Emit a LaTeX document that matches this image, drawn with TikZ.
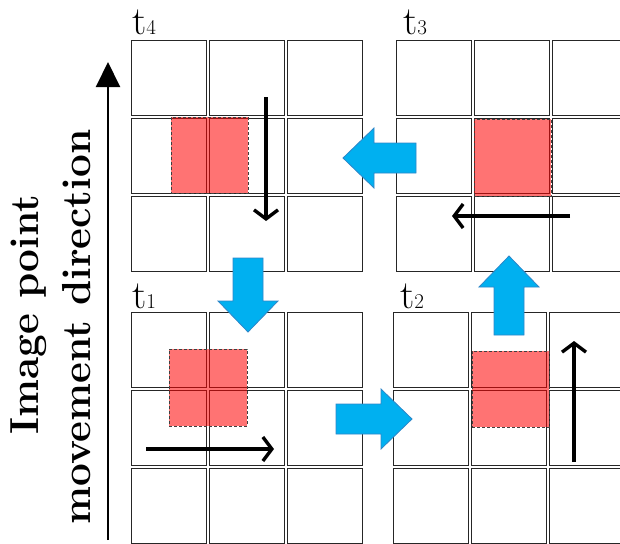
\documentclass[tikz,border=0pt]{standalone}
\usepackage{fontspec}
\usetikzlibrary{arrows.meta}
\definecolor{arrowblue}{HTML}{00B0F0}
\definecolor{edgeblue}{HTML}{2E86C8}
\begin{document}
\begin{tikzpicture}[x=1pt,y=-1pt,
  cellbox/.style={draw=black!85, line width=1.3pt},
  redpatch/.style={fill=red, fill opacity=0.55, draw=black!75, draw opacity=1, dash pattern=on 3pt off 2pt, line width=0.8pt, inner sep=0pt},
  motion/.style={line width=3.4pt, -{Straight Barb[length=9pt,width=24pt]}},
  timelabel/.style={anchor=base west, inner sep=0pt, font=\fontsize{40}{40}\selectfont},
  vlabel/.style={rotate=90, anchor=base, inner sep=0pt, font=\fontsize{40.5}{40.5}\selectfont\bfseries},
  barrow/.style={fill=arrowblue, draw=edgeblue, line width=0.8pt, line join=miter},
  pics/grid3/.style={code={
    \foreach \i in {0,1,2}{\foreach \j in {0,1,2}{
      \draw[cellbox] (\i*78+1.3,\j*78+1.3) rectangle ++(75.4,75.4);}}}},
  pics/blockarrow/.style={code={
    \draw[barrow] (0,0) -- (-31,30) -- (-31,15) -- (-#1,15) -- (-#1,-15) -- (-31,-15) -- (-31,-30) -- cycle;}}
]
\useasboundingbox (0,0) rectangle (620,543);
\clip (0,0) rectangle (620,543);

% grids
\pic at (130,39) {grid3};
\pic at (395,39) {grid3};
\pic at (130,311) {grid3};
\pic at (392,311) {grid3};

% red patches
\node[redpatch, minimum width=77pt, minimum height=76pt] (r4) at (209.5,155) {};
\node[redpatch, minimum width=77pt, minimum height=77pt] (r3) at (512.5,157.5) {};
\node[redpatch, minimum width=78pt, minimum height=77pt] (r1) at (208,387.5) {};
\node[redpatch, minimum width=77pt, minimum height=76pt] (r2) at (510.5,389) {};

% time labels
\node[timelabel] (t4) at (132,35) {t\fontsize{21}{21}\selectfont 4};
\node[timelabel] (t3) at (403,35) {t\fontsize{21}{21}\selectfont 3};
\node[timelabel] (t1) at (132,308) {t\fontsize{21}{21}\selectfont 1};
\node[timelabel] (t2) at (400,308) {t\fontsize{21}{21}\selectfont 2};

% motion arrows inside grids
\coordinate (m4s) at (266,97);  \coordinate (m4e) at (266,221);
\coordinate (m3s) at (570,216); \coordinate (m3e) at (452,216);
\coordinate (m1s) at (146,449); \coordinate (m1e) at (274,449);
\coordinate (m2s) at (574,462); \coordinate (m2e) at (574,341);
\draw[motion] (m4s) -- (m4e);
\draw[motion] (m3s) -- (m3e);
\draw[motion] (m1s) -- (m1e);
\draw[motion] (m2s) -- (m2e);

% blue block arrows
\pic[rotate=180] at (343,158) {blockarrow=73};
\pic[rotate=-90] at (248,332) {blockarrow=74};
\pic at (412,419) {blockarrow=76};
\pic[rotate=90] at (509,256) {blockarrow=79};

% direction axis
\coordinate (axtail) at (108,540);
\coordinate (axhead) at (108,62);
\draw[line width=2pt, -{Triangle[length=25pt,width=24pt]}] (axtail) -- (axhead);
\node[vlabel] (lab1) at (38,315) {Image point};
\node[vlabel] (lab2) at (90,327) {movement direction};
\end{tikzpicture}
\end{document}
